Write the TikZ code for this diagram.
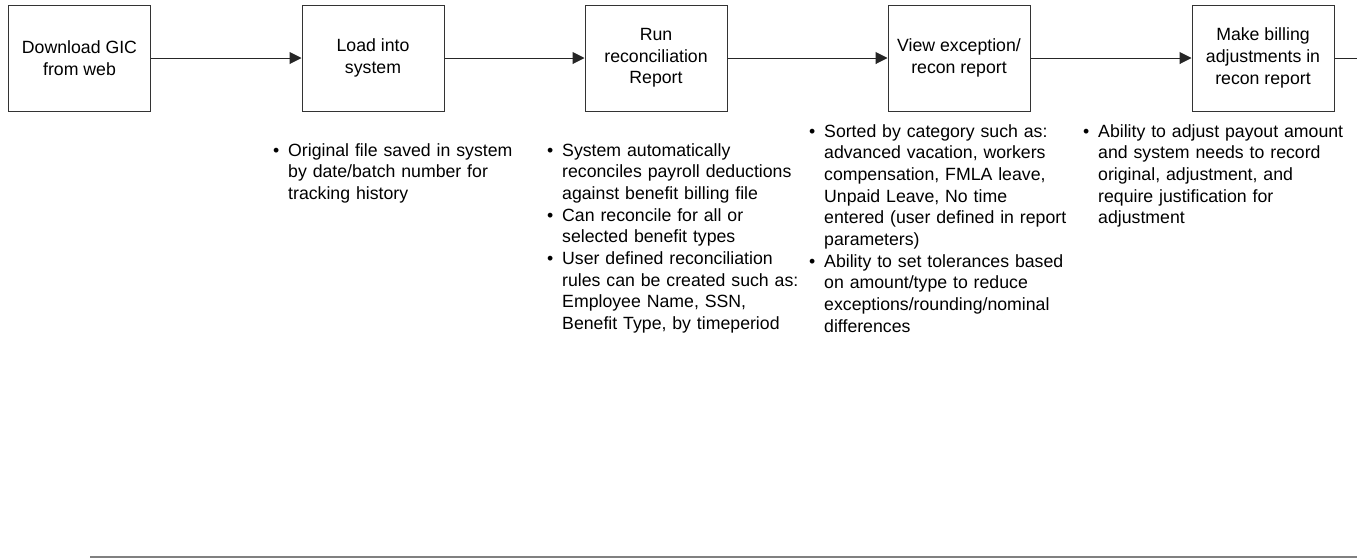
\documentclass[tikz,border=0pt]{standalone}
\usepackage{fontspec}
\setmainfont{Liberation Sans}
\usetikzlibrary{arrows.meta}
\tikzset{
  stepbox/.style={draw=black!80, line width=1pt, minimum width=142pt, minimum height=106pt,
    inner sep=0pt, align=center, font=\fontsize{17.7}{21.7}\selectfont},
  flow/.style={draw=black!85, line width=1pt, -{Triangle[length=12pt,width=12pt]}},
  plainline/.style={draw=black!85, line width=1pt},
  notes/.style={anchor=north west, inner sep=0pt, text width=300pt, align=left,
    font=\fontsize{17.7}{21.7}\selectfont},
}
% one bulleted entry with a hanging indent
\newcommand{\bitem}[1]{\noindent\hangindent=15pt\hangafter=1\makebox[15pt][l]{\textbullet}#1\par}
\begin{document}
\begin{tikzpicture}[x=1pt, y=-1pt]
\useasboundingbox (0,0) rectangle (1357,558);

% process steps
\node[stepbox] (b1) at (79.5,58) {Download GIC\\from web};
\node[stepbox] (b2) at (373,58) {Load into\\system};
\node[stepbox] (b3) at (656,58) {Run\\reconciliation\\Report};
\node[stepbox] (b4) at (959,58) {View exception/\\recon report};
\node[stepbox] (b5) at (1263,58) {Make billing\\adjustments in\\recon report};
\coordinate (exit) at (1357,58);

% connectors
\draw[flow] (b1) -- (b2);
\draw[flow] (b2) -- (b3);
\draw[flow] (b3) -- (b4);
\draw[flow] (b4) -- (b5);
\draw[plainline] (b5) -- (exit);

% notes under the steps
\node[notes] (n2) at (273,143) {%
  \bitem{Original file saved in system\newline by date/batch number for\newline tracking history}};
\node[notes] (n3) at (547,143) {%
  \bitem{System automatically\newline reconciles payroll deductions\newline against benefit billing file}
  \bitem{Can reconcile for all or\newline selected benefit types}
  \bitem{User defined reconciliation\newline rules can be created such as:\newline Employee Name, SSN,\newline Benefit Type, by timeperiod}};
\node[notes] (n4) at (809,124) {%
  \bitem{Sorted by category such as:\newline advanced vacation, workers\newline compensation, FMLA leave,\newline Unpaid Leave, No time\newline entered (user defined in report\newline parameters)}
  \bitem{Ability to set tolerances based\newline on amount/type to reduce\newline exceptions/rounding/nominal\newline differences}};
\node[notes] (n5) at (1083,124) {%
  \bitem{Ability to adjust payout amount\newline and system needs to record\newline original, adjustment, and\newline require justification for\newline adjustment}};

% page rule
\draw[gray, line width=1.3pt] (90,557) -- (1357,557);
\end{tikzpicture}
\end{document}
